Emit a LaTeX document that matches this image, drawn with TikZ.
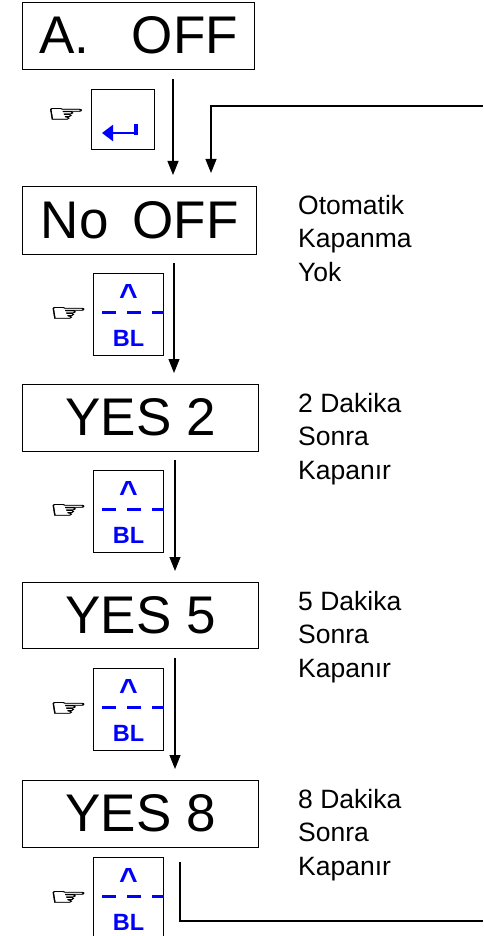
\documentclass[tikz,border=0pt]{standalone}
\usepackage{fontspec}
\setmainfont{Liberation Sans}
\newfontfamily\symfont[AutoFakeBold=1.2]{DejaVu Sans}
\definecolor{keyblue}{RGB}{0,0,255}
\usetikzlibrary{arrows.meta}
\tikzset{
 x=1pt,y=-1pt,
 dispbox/.style={draw=black,line width=1.4pt,inner sep=0pt,anchor=north west,font=\fontsize{53}{53}\selectfont},
 keybox/.style={draw=black,line width=1.3pt,inner sep=0pt,anchor=north west,minimum width=70pt,minimum height=82pt},
 hand/.style={font=\symfont\bfseries\fontsize{24}{24}\selectfont,inner sep=0pt},
 flow/.style={draw=black,line width=1.1pt,-{Triangle[length=14pt,width=11pt]}},
 plainline/.style={draw=black,line width=1.1pt},
 note/.style={anchor=north west,inner sep=0pt,align=left,font=\fontsize{26.5}{33.5}\selectfont},
 keytxt/.style={text=keyblue,font=\bfseries\fontsize{23.5}{23.5}\selectfont,inner sep=0pt},
 caret/.style={text=keyblue,font=\bfseries\fontsize{32}{32}\selectfont,inner sep=0pt,anchor=north},
 sep/.style={draw=keyblue,line width=3pt,dash pattern=on 14pt off 11pt},
}
\newcommand{\dispnode}[6]{\node[dispbox,minimum width=#3pt,minimum height=#4pt] (#5) at (#1,#2) {\raisebox{1.5pt}{#6}};}
\newcommand{\handglyph}{\scalebox{1.8}[1]{☞}}
\newcommand{\blkey}[3]{%
 \node[keybox] (#3) at (#1,#2) {};
 \node[caret] (#3up) at ([shift={(35.5,11)}]#3.north west) {\textasciicircum};
 \node[keytxt] (#3bl) at ([shift={(35.5,65)}]#3.north west) {BL};
 \coordinate (#3a) at ([shift={(9,39)}]#3.north west);
 \coordinate (#3b) at (#3a-|#3.east);
 \draw[sep] (#3a) -- (#3b);
 \node[hand] (#3h) at ([shift={(-24.5,41)}]#3.north west) {\handglyph};
}
\begin{document}
\begin{tikzpicture}
\useasboundingbox (0,0) rectangle (483,936);
\dispnode{22}{2}{232}{67}{a}{A.\hspace{0.8em}OFF}
\dispnode{22}{186}{234}{68}{b}{No\hspace{0.45em}OFF}
\dispnode{22}{384}{236}{67}{c}{YES 2}
\dispnode{22}{582}{236}{66}{d}{YES 5}
\dispnode{22}{780}{236}{67}{e}{YES 8}
% enter key
\node[keybox,minimum width=63pt,minimum height=60pt] (k0) at (91,89) {};
\node[hand] (k0h) at (66,115) {\handglyph};
\coordinate (ent1) at (136,124);
\coordinate (ent2) at (136,135);
\coordinate (ent3) at (102,133);
\draw[draw=keyblue,line width=2.4pt,-{Triangle[length=11pt,width=16pt]}] (ent3-|ent1) -- (ent3);
\draw[draw=keyblue,line width=3.5pt] (ent1) -- (ent2);
% keys
\blkey{93}{273}{k1}
\blkey{93}{470}{k2}
\blkey{93}{668}{k3}
\blkey{93}{857}{k4}
% notes
\node[note] (n1) at (298,194.6) {Otomatik\\Kapanma\\Yok};
\node[note] (n2) at (298,392.6) {2 Dakika\\Sonra\\Kapanır};
\node[note] (n3) at (298,590.6) {5 Dakika\\Sonra\\Kapanır};
\node[note] (n4) at (298,788.6) {8 Dakika\\Sonra\\Kapanır};
% connectors
\coordinate (f1) at (173,79);
\coordinate (f2) at (173,175);
\coordinate (f3) at (174,263);
\coordinate (f4) at (174,373);
\coordinate (f5) at (175,460);
\coordinate (f6) at (175,571);
\coordinate (f7) at (175,658);
\coordinate (f8) at (175,769);
\draw[flow] (f1) -- (f2);
\draw[flow] (f3) -- (f4);
\draw[flow] (f5) -- (f6);
\draw[flow] (f7) -- (f8);
\coordinate (r1) at (483,106);
\coordinate (r2) at (211,106);
\coordinate (r3) at (211,173);
\draw[flow] (r1) -- (r2) -- (r3);
\coordinate (s1) at (180,862);
\coordinate (s2) at (180,921);
\coordinate (s3) at (483,921);
\draw[plainline] (s1) -- (s2) -- (s3);
\end{tikzpicture}
\end{document}
